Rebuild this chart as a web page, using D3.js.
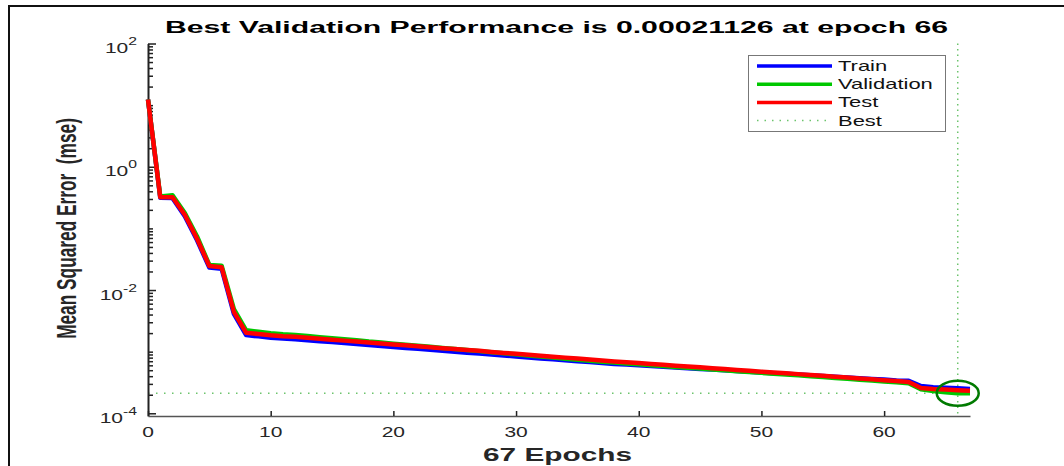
<!DOCTYPE html>
<html>
<head>
<meta charset="utf-8">
<script src="https://cdnjs.cloudflare.com/ajax/libs/d3/7.8.5/d3.min.js"></script>
<style>
	body { margin: 0; background: #fff; }
	text { font-family: "Liberation Sans", Arial, sans-serif; }
</style>
</head>
<body>
<div id="chart"></div>
<script>
// mse per epoch
let epochs = d3.range(0, 68);

let train = [12.3, 0.315, 0.31, 0.158, 0.064, 0.0232, 0.0222, 0.0041,
	0.00186, 0.00177, 0.00168, 0.00163, 0.00159, 0.00153, 0.00148, 0.00143, 0.00138, 0.00133,
	0.00128, 0.00124, 0.00119, 0.00115, 0.00111, 0.00107, 0.00103, 0.000998, 0.000964, 0.00093,
	0.000896, 0.000865, 0.000836, 0.000805, 0.000777, 0.000751, 0.000724, 0.0007, 0.000679, 0.000654,
	0.000632, 0.000616, 0.0006, 0.000584, 0.000569, 0.000554, 0.00054, 0.000525, 0.000511, 0.000499,
	0.000486, 0.000473, 0.00046, 0.000448, 0.000437, 0.000426, 0.000414, 0.000403, 0.000392, 0.000382,
	0.000372, 0.000361, 0.000352, 0.000342, 0.000336, 0.000276, 0.000265, 0.00026, 0.000254, 0.000248];

let validation = [12.3, 0.33, 0.345, 0.178, 0.074, 0.0255, 0.0248, 0.0049,
	0.00222, 0.0021, 0.00199, 0.00191, 0.00186, 0.00179, 0.00172, 0.00165, 0.00159, 0.00153,
	0.00146, 0.00141, 0.00135, 0.0013, 0.00125, 0.0012, 0.00115, 0.0011, 0.00106, 0.00102,
	0.000979, 0.000941, 0.000905, 0.000867, 0.000833, 0.000801, 0.000768, 0.000738, 0.000712, 0.000687,
	0.000664, 0.000643, 0.000623, 0.000603, 0.000584, 0.000566, 0.000548, 0.000531, 0.000514, 0.000499,
	0.000483, 0.000468, 0.000453, 0.000438, 0.000426, 0.000413, 0.000399, 0.000387, 0.000374, 0.000363,
	0.000351, 0.00034, 0.000329, 0.000319, 0.000308, 0.000245, 0.00023, 0.00022, 0.00021126, 0.000212];

let test = [12.3, 0.32, 0.32, 0.166, 0.068, 0.0245, 0.0234, 0.00444,
	0.00202, 0.00193, 0.00184, 0.00178, 0.00174, 0.00168, 0.00162, 0.00156, 0.00151, 0.00146,
	0.00141, 0.00136, 0.00131, 0.00127, 0.00122, 0.00118, 0.00114, 0.0011, 0.00106, 0.00103,
	0.00099, 0.000955, 0.000923, 0.000889, 0.000859, 0.00083, 0.0008, 0.000773, 0.000746, 0.000719,
	0.000695, 0.000673, 0.000652, 0.000631, 0.000612, 0.000593, 0.000574, 0.000556, 0.000538, 0.000522,
	0.000506, 0.00049, 0.000474, 0.000459, 0.000446, 0.000432, 0.000418, 0.000405, 0.000392, 0.00038,
	0.000368, 0.000356, 0.000345, 0.000334, 0.000323, 0.000258, 0.000248, 0.000243, 0.000237, 0.000232];

let bestEpoch = 66;
let bestValue = 0.00021126;

let xTicks = [0, 10, 20, 30, 40, 50, 60];
let yMajor = [1e-4, 1e-2, 1e0, 1e2];
let yLabels = ['-4', '-2', '0', '2'];

let series = [
	{ name: 'Train', values: train, color: '#0000ff' },
	{ name: 'Validation', values: validation, color: '#00c800' },
	{ name: 'Test', values: test, color: '#ff0000' }
];

let width = 1064;
let height = 466;
let stretch = 1.5;

let svg = d3.select('#chart').append('svg')
	.attr('width', width)
	.attr('height', height);

// figure frame (only top and left edges show)
svg.append('rect')
	.attr('x', 9)
	.attr('y', 6)
	.attr('width', 1200)
	.attr('height', 600)
	.attr('fill', 'none')
	.attr('stroke', '#111')
	.attr('stroke-width', 2);

let x = d3.scaleLinear().domain([0, 67]).range([148, 970]);
let y = d3.scaleLog().domain([Math.pow(10, -4.044), 100]).range([416, 43.5]);

// best markers
let bestColor = '#6cc46c';
svg.append('line')
	.attr('x1', x(0)).attr('x2', x(bestEpoch))
	.attr('y1', y(bestValue)).attr('y2', y(bestValue))
	.attr('stroke', bestColor)
	.attr('stroke-width', 1.5)
	.attr('stroke-dasharray', '1.5,6.5');

svg.append('line')
	.attr('x1', x(bestEpoch)).attr('x2', x(bestEpoch))
	.attr('y1', y.range()[1]).attr('y2', y.range()[0])
	.attr('stroke', bestColor)
	.attr('stroke-width', 1.5)
	.attr('stroke-dasharray', '1.5,4');

// axes
let yMinor = y.ticks().filter(d => yMajor.indexOf(d) < 0);

svg.append('g')
	.attr('transform', 'translate(' + x(0) + ',0)')
	.call(d3.axisLeft(y).tickValues(yMinor).tickFormat('').tickSizeInner(-5).tickSizeOuter(0))
	.call(g => g.select('.domain').remove())
	.selectAll('line').attr('stroke', '#222').attr('stroke-width', 1.5);

svg.append('g')
	.attr('transform', 'translate(' + x(0) + ',0)')
	.call(d3.axisLeft(y).tickValues(yMajor).tickFormat('').tickSizeInner(-8).tickSizeOuter(0))
	.call(g => g.select('.domain').attr('stroke', '#222').attr('stroke-width', 2))
	.selectAll('line').attr('stroke', '#222').attr('stroke-width', 1.5);

svg.append('g')
	.attr('transform', 'translate(0,' + y.range()[0] + ')')
	.call(d3.axisBottom(x).tickValues(xTicks).tickFormat('').tickSizeInner(-5).tickSizeOuter(0))
	.call(g => g.select('.domain').attr('stroke', '#555').attr('stroke-width', 1.5))
	.selectAll('line').attr('stroke', '#222').attr('stroke-width', 1.5);

// tick labels
let yl = svg.append('g').selectAll('text')
	.data(yMajor)
	.enter()
	.append('text')
	.attr('transform', d => 'translate(137,' + (y(d) + 9.5) + ') scale(' + stretch + ',1)')
	.attr('text-anchor', 'end')
	.attr('font-size', 14)
	.attr('fill', '#262626');
yl.append('tspan').text('10');
yl.append('tspan')
	.attr('dy', -8)
	.attr('font-size', 10.5)
	.text((d, i) => yLabels[i]);

svg.append('g').selectAll('text')
	.data(xTicks)
	.enter()
	.append('text')
	.attr('transform', d => 'translate(' + x(d) + ',437) scale(' + stretch + ',1)')
	.attr('text-anchor', 'middle')
	.attr('font-size', 14)
	.attr('fill', '#262626')
	.text(d => d);

// lines
let line = d3.line()
	.x((d, i) => x(epochs[i]))
	.y(d => y(d));

svg.append('g').selectAll('path')
	.data(series)
	.enter()
	.append('path')
	.attr('d', d => line(d.values))
	.attr('fill', 'none')
	.attr('stroke', d => d.color)
	.attr('stroke-width', 4.5)
	.attr('stroke-linejoin', 'round');

svg.append('ellipse')
	.attr('cx', x(bestEpoch))
	.attr('cy', y(bestValue))
	.attr('rx', 21)
	.attr('ry', 12.5)
	.attr('fill', 'none')
	.attr('stroke', '#007a00')
	.attr('stroke-width', 2.5);

// titles
svg.append('text')
	.attr('x', 556.5)
	.attr('y', 32.5)
	.attr('text-anchor', 'middle')
	.attr('font-size', 16)
	.attr('font-weight', 'bold')
	.attr('textLength', 783)
	.attr('lengthAdjust', 'spacingAndGlyphs')
	.text('Best Validation Performance is ' + bestValue + ' at epoch ' + bestEpoch);

svg.append('text')
	.attr('x', 557.5)
	.attr('y', 461)
	.attr('text-anchor', 'middle')
	.attr('font-size', 17.5)
	.attr('font-weight', 'bold')
	.attr('fill', '#262626')
	.attr('textLength', 149)
	.attr('lengthAdjust', 'spacingAndGlyphs')
	.text(epochs.length - 1 + ' Epochs');

// y label: tall, squeezed along its length like the original
svg.append('text')
	.attr('transform', 'translate(76,228.5) rotate(-90) scale(0.64,1)')
	.attr('text-anchor', 'middle')
	.attr('font-size', 27)
	.attr('font-weight', 'bold')
	.attr('fill', '#262626')
	.style('white-space', 'pre')
	.text('Mean Squared Error  (mse)');

// legend
let legendItems = series.map(s => ({ name: s.name, color: s.color, dash: null, w: 3.5 }))
	.concat([{ name: 'Best', color: bestColor, dash: '1.5,6', w: 1.5 }]);

let legend = svg.append('g');
legend.append('rect')
	.attr('x', 748.5)
	.attr('y', 55.5)
	.attr('width', 197)
	.attr('height', 76)
	.attr('fill', '#fff')
	.attr('stroke', '#777')
	.attr('stroke-width', 1);

let rows = legend.selectAll('.row')
	.data(legendItems)
	.enter()
	.append('g')
	.attr('class', 'row')
	.attr('transform', (d, i) => 'translate(0,' + (66 + i * 18.2) + ')');

rows.append('line')
	.attr('x1', 757)
	.attr('x2', 832)
	.attr('stroke', d => d.color)
	.attr('stroke-width', d => d.w)
	.attr('stroke-dasharray', d => d.dash);

rows.append('text')
	.attr('transform', 'translate(838,5) scale(1.57,1)')
	.attr('font-size', 14)
	.attr('fill', '#111')
	.text(d => d.name);
</script>
</body>
</html>
